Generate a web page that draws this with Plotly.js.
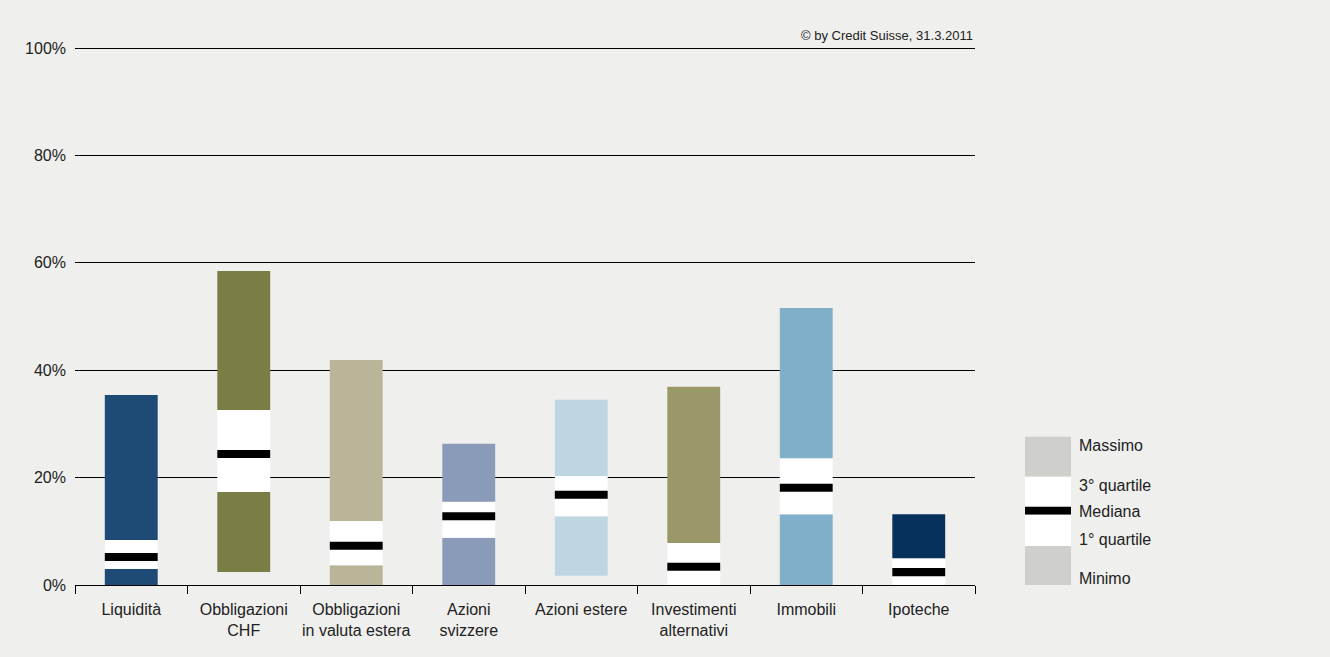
<!DOCTYPE html>
<html>
<head>
<meta charset="utf-8">
<script src="https://cdn.plot.ly/plotly-3.0.1.min.js"></script>
<style>body{margin:0;background:#fff}#plot{width:1330px;height:657px}</style>
</head>
<body>
<div id="plot"></div>
<script>
var categories = ["Liquidità", "Obbligazioni<br>CHF", "Obbligazioni<br>in valuta estera", "Azioni<br>svizzere",
  "Azioni estere", "Investimenti<br>alternativi", "Immobili", "Ipoteche"];
var minimo   = [0, 2.4, 0, 0, 1.7, 0, 0, 0];
var quart1   = [3.0, 17.3, 3.7, 8.8, 12.8, 0, 13.2, 0];
var mediana  = [5.2, 24.4, 7.3, 12.8, 16.8, 3.4, 18.1, 2.4];
var quart3   = [8.4, 32.6, 11.9, 15.5, 20.3, 7.8, 23.6, 5.0];
var massimo  = [35.4, 58.5, 41.9, 26.3, 34.5, 36.9, 51.6, 13.2];
var colors = ["#1d4b76", "#7a7e45", "#bab598", "#8a9bb9", "#bed6e2", "#9a9869", "#80afc9", "#06315c"];
var yTicks = [0, 20, 40, 60, 80, 100];
var yTickText = ["0%", "20%", "40%", "60%", "80%", "100%"];

var medHalf = 0.75;
function diff(a, b) { return a.map(function (v, i) { return v - b[i]; }); }

var w = 0.47;
var data = [
  {type: "bar", x: categories, base: minimo, y: diff(quart1, minimo), width: w, marker: {color: colors}, hoverinfo: "skip"},
  {type: "bar", x: categories, base: quart1, y: diff(quart3, quart1), width: w, marker: {color: "#ffffff"}, hoverinfo: "skip"},
  {type: "bar", x: categories, base: quart3, y: diff(massimo, quart3), width: w, marker: {color: colors}, hoverinfo: "skip"},
  {type: "bar", x: categories, base: mediana.map(function (v) { return v - medHalf; }),
   y: mediana.map(function () { return 2 * medHalf; }), width: w, marker: {color: "#000000"}, hoverinfo: "skip"}
];

// legend schematic (paper coords)
var lx0 = 1025, lx1 = 1071;
function px(x) { return (x - 75) / 900; }
function py(y) { return (585 - y) / 537; }
var segs = [[437, 477, "#cfcfcb"], [477, 507, "#ffffff"], [507, 515, "#000000"], [515, 546, "#ffffff"], [546, 585, "#cfcfcb"]];
var shapes = segs.map(function (s) {
  return {type: "rect", xref: "paper", yref: "paper", x0: px(lx0), x1: px(lx1), y0: py(s[1]), y1: py(s[0]),
    fillcolor: s[2], line: {width: 0}};
});
var legTxt = [["Massimo", 446], ["3° quartile", 486], ["Mediana", 512], ["1° quartile", 540], ["Minimo", 579]];
var annotations = legTxt.map(function (t) {
  return {xref: "paper", yref: "paper", x: px(1077), y: py(t[1]), text: t[0], showarrow: false,
    xanchor: "left", yanchor: "middle", font: {size: 16, color: "#222"}};
});
annotations.push({xref: "paper", yref: "paper", x: 1, y: py(46), yanchor: "bottom", xanchor: "right",
  text: "© by Credit Suisse, 31.3.2011", showarrow: false, font: {size: 13, color: "#222"}});

var layout = {
  width: 1330, height: 657,
  margin: {l: 75, r: 355, t: 47, b: 72},
  paper_bgcolor: "#efefed", plot_bgcolor: "#efefed",
  font: {family: "Liberation Sans, Arial, sans-serif", size: 16, color: "#222"},
  barmode: "overlay", showlegend: false,
  xaxis: {showline: true, linecolor: "#000", linewidth: 1, ticks: "outside", tickson: "boundaries",
    ticklen: 8, tickcolor: "#000", showgrid: false, fixedrange: true, tickangle: 0,
    ticklabelstandoff: 10, tickfont: {size: 16}},
  yaxis: {range: [0, 100.2], tickvals: yTicks, ticktext: yTickText, gridcolor: "#000", gridwidth: 1,
    zeroline: false, showline: false, ticks: "", ticklabelstandoff: 8, fixedrange: true},
  shapes: shapes, annotations: annotations
};
Plotly.newPlot("plot", data, layout, {displayModeBar: false});
</script>
</body>
</html>
